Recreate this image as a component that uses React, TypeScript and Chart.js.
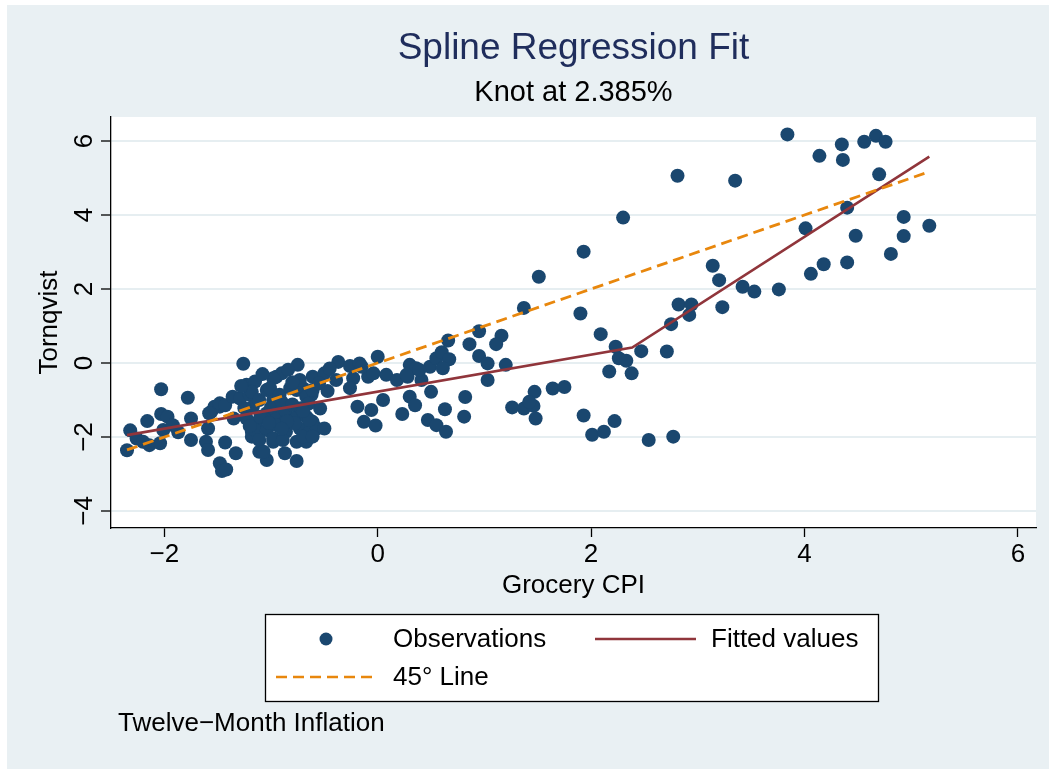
import React, { useEffect, useRef } from 'react';
import { Chart, registerables } from 'chart.js';

Chart.register(...registerables);

const FONT = "'Liberation Sans', Arial, Helvetica, sans-serif";

const titleText = 'Spline Regression Fit';
const subtitleText = 'Knot at 2.385%';
const xTitle = 'Grocery CPI';
const yTitle = 'Tornqvist';
const noteText = 'Twelve\u2212Month Inflation';
const legendLabels = ['Observations', 'Fitted values', '45\u00b0 Line'];

const xTickValues = [-2, 0, 2, 4, 6];
const yTickValues = [-4, -2, 0, 2, 4, 6];

const obsX = [
  -2.35, -2.32, -2.26, -2.20, -2.14, -2.16, -2.04, -2.03, -2.03, -2.01,
  -1.97, -1.92, -1.87, -1.78, -1.75, -1.75, -1.61, -1.59, -1.59, -1.56,
  -1.53, -1.48, -1.48, -1.43, -1.58, -1.36, -1.35, -1.29, -1.43, -1.33,
  -1.48, -1.46, -1.42, -1.26, -1.23, -1.15, -1.20, -1.18, -1.18, -1.11,
  -1.04, -1.23, -1.18, -1.14, -1.17, -1.11, -1.04, -1.04, -1.15, -1.04,
  -1.11, -0.98, -1.07, -0.98, -0.95, -0.95, -0.95, -0.90, -0.98, -1.01,
  -0.92, -0.82, -0.70, -0.62, -0.95, -0.86, -0.76, -0.67, -0.61, -0.95,
  -0.86, -0.73, -0.64, -0.57, -0.98, -0.89, -0.76, -0.67, -0.87, -0.76,
  -0.87, -0.76, -0.73, -0.67, -0.61, -0.64, -0.70, -0.78, -0.54, -0.50,
  -0.61, -0.75, -0.61, -0.50, -0.47, -0.39, -0.37, -0.26, -0.17, 0.00,
  -0.23, -0.09, -0.15, -0.04, 0.08, 0.18, 0.30, 0.36, 0.49, 0.55,
  0.28, 0.41, 0.50, 0.30, -0.26, -0.19, -0.06, 0.05, -0.13, -0.02,
  0.23, 0.47, 0.55, 0.64, 0.63, 0.60, 0.66, 0.67, 0.61, 0.95,
  0.86, 1.16, 1.11, 0.95, 1.03, 1.20, 1.03, 0.82, 0.81, 1.47,
  1.64, 1.75, 1.26, 1.37, 1.46, 1.42, 1.48, 1.37, 1.51, 1.93,
  1.90, 2.09, 2.23, 2.26, 2.33, 2.17, 2.38, 1.93, 2.01, 2.12,
  2.22, 2.30, 2.47, 2.71, 2.75, 2.82, 2.94, 2.92, 2.81, 3.35,
  3.14, 3.20, 3.23, 3.42, 3.53, 3.76, 3.84, 4.01, 4.06, 4.18,
  4.14, 4.35, 4.36, 4.40, 4.40, 4.48, 4.56, 4.67, 4.76, 4.70,
  4.81, 4.93, 4.93, 5.17, 2.54, 2.77, 0.27, 0.39, 0.35,
  -1.25, -1.10, -1.00, -0.90, -0.80, -0.72, -0.65, -0.85, -1.08, -0.84,
  -0.80, -1.28, -1.20, -0.55, -0.45, -1.02, -0.90, -0.70,
];

const obsY = [
  -2.36, -1.82, -2.04, -2.13, -2.22, -1.57, -2.17, -1.38, -0.71, -1.81,
  -1.45, -1.68, -1.87, -0.94, -1.50, -2.08, -2.13, -2.35, -1.77, -1.32,
  -1.18, -1.18, -1.09, -1.14, -1.36, -0.91, -1.50, -0.96, -2.15, -2.44,
  -2.71, -2.92, -2.88, -0.02, -0.59, -0.50, -0.86, -0.78, -1.86, -2.40,
  -2.62, -1.50, -1.99, -1.63, -1.18, -1.00, -0.73, -1.36, -1.81, -1.81,
  -2.08, -2.13, -2.40, -1.00, -1.54, -1.18, -0.37, -0.28, -0.41, -0.68,
  -0.86, -0.68, -0.68, -0.86, -1.32, -1.32, -1.45, -1.45, -1.59, -1.68,
  -1.86, -1.77, -1.86, -1.77, -2.04, -2.08, -2.13, -2.13, -2.44, -2.65,
  -1.27, -0.73, -0.46, -0.91, -0.73, -1.54, -1.99, -1.63, -1.23, -1.77,
  -1.99, -0.05, -0.37, -0.28, -0.76, -0.46, 0.03, -0.08, -0.01, 0.17,
  -0.41, -0.37, -0.10, -0.28, -0.32, -0.46, -0.05, -0.14, -0.10, 0.13,
  -0.37, -0.46, -0.78, -0.91, -0.68, -1.18, -1.27, -1.00, -1.59, -1.69,
  -1.38, -1.54, -1.68, -1.86, -1.25, 0.29, 0.61, 0.10, -0.14, 0.86,
  0.51, 0.74, 0.51, 0.19, -0.01, -0.05, -0.46, -0.92, -1.45, -0.78,
  -0.69, -0.65, -1.20, -1.23, -1.16, -1.05, -1.50, 1.49, 2.33, 3.01,
  1.34, 0.78, 0.44, 0.13, 0.06, -0.23, -0.28, -1.42, -1.94, -1.86,
  -1.57, 3.93, 0.32, 0.31, 1.05, 1.58, 1.58, 1.30, 5.06, 4.93,
  2.63, 2.24, 1.51, 2.06, 1.93, 1.99, 6.18, 3.64, 2.41, 2.67,
  5.60, 5.91, 5.49, 4.20, 2.72, 3.44, 5.98, 6.14, 5.98, 5.10,
  2.95, 3.95, 3.43, 3.71, -2.08, -1.99, -0.32, -0.19, -1.14,
  -1.22, -1.45, -1.20, -1.05, -1.12, -1.22, -1.10, -1.58, -0.30, -0.18,
  -0.52, -0.62, -1.70, -0.55, -0.15, -1.62, -1.78, -1.30,
];

const fitX = [-2.35, 2.385, 5.17];
const fitY = [-1.95, 0.42, 5.58];

const diagX = [-2.35, 5.17];
const diagY = [-2.35, 5.17];

const NAVY = '#1a476f';
const MAROON = '#90353b';
const ORANGE = '#e8870d';
const PANEL = '#e9f0f3';
const GRID = '#e6eef1';

const fmt = (v: number) => (v < 0 ? '\u2212' + Math.abs(v) : String(v));

const decor = {
  id: 'decor',
  beforeDraw(chart: any) {
    const { ctx, chartArea: a, width, height } = chart;
    ctx.save();
    ctx.fillStyle = '#ffffff';
    ctx.fillRect(0, 0, width, height);
    ctx.fillStyle = PANEL;
    ctx.fillRect(7, 5, width - 7, height - 5);
    ctx.fillStyle = '#ffffff';
    ctx.fillRect(a.left, a.top, a.right - a.left, a.bottom - a.top);
    ctx.restore();
  },
  afterDraw(chart: any) {
    const { ctx, chartArea: a } = chart;
    const cx = (a.left + a.right) / 2;
    ctx.save();
    ctx.textBaseline = 'middle';
    ctx.textAlign = 'center';
    ctx.fillStyle = '#1f2d5c';
    ctx.font = `37px ${FONT}`;
    ctx.fillText(titleText, cx, 49);
    ctx.fillStyle = '#000';
    ctx.font = `29px ${FONT}`;
    ctx.fillText(subtitleText, cx, 93);

    // legend box
    const lx = 265, ly = 614, lw = 613, lh = 87;
    ctx.fillStyle = '#ffffff';
    ctx.fillRect(lx, ly, lw, lh);
    ctx.strokeStyle = '#000';
    ctx.lineWidth = 1.3;
    ctx.strokeRect(lx + 0.5, ly + 0.5, lw, lh);

    const r1 = ly + 25, r2 = ly + 63;
    ctx.fillStyle = NAVY;
    ctx.beginPath();
    ctx.arc(326, r1, 6.5, 0, Math.PI * 2);
    ctx.fill();

    ctx.strokeStyle = MAROON;
    ctx.lineWidth = 2.6;
    ctx.beginPath();
    ctx.moveTo(595, r1);
    ctx.lineTo(696, r1);
    ctx.stroke();

    ctx.strokeStyle = ORANGE;
    ctx.setLineDash([11, 6]);
    ctx.beginPath();
    ctx.moveTo(276, r2);
    ctx.lineTo(376, r2);
    ctx.stroke();
    ctx.setLineDash([]);

    ctx.fillStyle = '#000';
    ctx.font = `26px ${FONT}`;
    ctx.textAlign = 'left';
    ctx.fillText(legendLabels[0], 393, r1 + 1);
    ctx.fillText(legendLabels[1], 711, r1 + 1);
    ctx.fillText(legendLabels[2], 393, r2 + 1);

    ctx.fillText(noteText, 118, 724);
    ctx.restore();
  },
};

export default function App() {
  const ref = useRef<HTMLCanvasElement>(null);
  useEffect(() => {
    if (!ref.current) return;
    const chart = new Chart(ref.current, {
      type: 'scatter',
      data: {
        datasets: [
          {
            label: legendLabels[0],
            data: obsX.map((x, i) => ({ x, y: obsY[i] })),
            pointRadius: 7,
            pointBackgroundColor: NAVY,
            pointBorderWidth: 0,
            borderWidth: 0,
            order: 3,
          },
          {
            label: legendLabels[1],
            data: fitX.map((x, i) => ({ x, y: fitY[i] })),
            showLine: true,
            pointRadius: 0,
            borderColor: MAROON,
            borderWidth: 2.6,
            fill: false,
            order: 2,
          },
          {
            label: legendLabels[2],
            data: diagX.map((x, i) => ({ x, y: diagY[i] })),
            showLine: true,
            pointRadius: 0,
            borderColor: ORANGE,
            borderWidth: 2.8,
            borderDash: [11, 6],
            fill: false,
            order: 1,
          },
        ],
      } as any,
      options: {
        animation: false,
        responsive: false,
        maintainAspectRatio: false,
        layout: { padding: { top: 117, right: 13, left: 0, bottom: 0 } },
        plugins: {
          legend: { display: false },
          tooltip: { enabled: false },
          title: { display: false },
        },
        scales: {
          x: {
            type: 'linear',
            position: 'bottom',
            min: -2.5,
            max: 6.17,
            afterBuildTicks: (s: any) => {
              s.ticks = xTickValues.map((v) => ({ value: v }));
            },
            afterFit: (s: any) => {
              s.height = 241;
            },
            grid: {
              drawOnChartArea: false,
              drawTicks: true,
              tickColor: '#000',
              tickLength: 9,
              tickWidth: 1.3,
            },
            border: { color: '#000', width: 1.3 },
            ticks: {
              font: { family: FONT, size: 26 },
              color: '#000',
              padding: 2,
              maxRotation: 0,
              minRotation: 0,
              callback: (v: any) => fmt(Number(v)),
            },
            title: {
              display: true,
              text: xTitle,
              color: '#000',
              font: { family: FONT, size: 26 },
              padding: { top: 0, bottom: 168 },
            },
          },
          y: {
            type: 'linear',
            position: 'left',
            min: -4.46,
            max: 6.65,
            afterBuildTicks: (s: any) => {
              s.ticks = yTickValues.map((v) => ({ value: v }));
            },
            afterFit: (s: any) => {
              s.width = 111;
            },
            grid: {
              color: GRID,
              lineWidth: 2,
              drawTicks: true,
              tickColor: '#000',
              tickLength: 10,
              tickWidth: 1.3,
            },
            border: { color: '#000', width: 1.3 },
            ticks: {
              font: { family: FONT, size: 26 },
              color: '#000',
              minRotation: 90,
              maxRotation: 90,
              crossAlign: 'center',
              padding: 1,
              callback: (v: any) => fmt(Number(v)),
            },
            title: {
              display: true,
              text: yTitle,
              color: '#000',
              font: { family: FONT, size: 26 },
              padding: { top: 34, bottom: 0 },
            },
          },
        },
      } as any,
      plugins: [decor],
    });
    return () => chart.destroy();
  }, []);

  return (
    <div style={{ position: 'absolute', left: 0, top: 0, width: 1049, height: 769 }}>
      <canvas ref={ref} width={1049} height={769} style={{ width: 1049, height: 769, display: 'block' }} />
    </div>
  );
}
